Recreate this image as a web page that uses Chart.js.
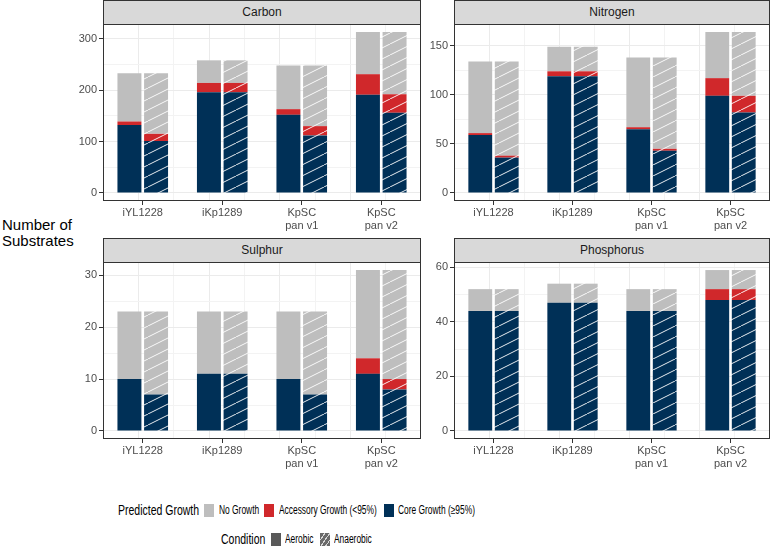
<!DOCTYPE html>
<html>
<head>
<meta charset="utf-8">
<script src="https://cdn.jsdelivr.net/npm/chart.js@4.4.1/dist/chart.umd.min.js"></script>
<style>
  body { margin: 0; width: 771px; height: 552px; position: relative; background: #fff; overflow: hidden;
         font-family: "Liberation Sans", Arial, sans-serif; }
  canvas { position: absolute; }
  .strip { position: absolute; height: 25px; box-sizing: border-box; background: #d9d9d9; border: 1px solid #333;
           font-size: 12px; line-height: 23px; color: #1a1a1a; text-align: center; }
  .ytitle { position: absolute; left: 2px; top: 217px; font-size: 15px; line-height: 16px; color: #000; }
  .lg { position: absolute; line-height: 16px; color: #000; white-space: nowrap;
        transform: scaleX(0.7); transform-origin: 0 50%; }
  .lg.t { font-size: 15px; }
  .lg.i { font-size: 12px; }
  .key { position: absolute; width: 10px; height: 13px; }
</style>
</head>
<body>
<div class="ytitle">Number of<br>Substrates</div>

<canvas id="cCarbon" width="361" height="231" style="left:60px;top:0px"></canvas>
<canvas id="cNitrogen" width="359" height="231" style="left:411px;top:0px"></canvas>
<canvas id="cSulphur" width="361" height="231" style="left:60px;top:238px"></canvas>
<canvas id="cPhosphorus" width="359" height="231" style="left:411px;top:238px"></canvas>

<div class="strip" style="left:103px;top:0px;width:318px">Carbon</div>
<div class="strip" style="left:454px;top:0px;width:316px">Nitrogen</div>
<div class="strip" style="left:103px;top:238px;width:318px">Sulphur</div>
<div class="strip" style="left:454px;top:238px;width:316px">Phosphorus</div>

<span class="lg t" style="left:118px;top:502px">Predicted Growth</span>
<span class="key" style="left:204px;top:504px;background:#bebebe"></span>
<span class="lg i" style="left:219px;top:502px">No Growth</span>
<span class="key" style="left:264px;top:504px;background:#d0282b"></span>
<span class="lg i" style="left:279px;top:502px">Accessory Growth (&lt;95%)</span>
<span class="key" style="left:384px;top:504px;background:#003057"></span>
<span class="lg i" style="left:398px;top:502px">Core Growth (≥95%)</span>

<span class="lg t" style="left:221px;top:531px">Condition</span>
<span class="key" style="left:271px;top:533px;background:#595959"></span>
<span class="lg i" style="left:285px;top:531px">Aerobic</span>
<span class="key" style="left:320px;top:533px;background:repeating-linear-gradient(-55deg,#6a6a6a 0 3px,#d8d8d8 3px 4px)"></span>
<span class="lg i" style="left:334px;top:531px">Anaerobic</span>

<script>
// categories (models)
var models = ["iYL1228", "iKp1289", ["KpSC", "pan v1"], ["KpSC", "pan v2"]];

// Carbon
var carbonAerCore = [132, 196, 152, 191];
var carbonAerAcc = [7, 18, 11, 40];
var carbonAerNone = [94, 44, 85, 82];
var carbonAnaCore = [101, 196, 112, 156];
var carbonAnaAcc = [14, 18, 18, 36];
var carbonAnaNone = [118, 44, 118, 121];

// Nitrogen
var nitrogenAerCore = [59, 119, 65, 99];
var nitrogenAerAcc = [2, 5, 2, 18];
var nitrogenAerNone = [73, 25, 71, 47];
var nitrogenAnaCore = [36, 119, 43, 82];
var nitrogenAnaAcc = [2, 5, 2, 17];
var nitrogenAnaNone = [96, 25, 93, 65];

// Sulphur
var sulphurAerCore = [10, 11, 10, 11];
var sulphurAerAcc = [0, 0, 0, 3];
var sulphurAerNone = [13, 12, 13, 17];
var sulphurAnaCore = [7, 11, 7, 8];
var sulphurAnaAcc = [0, 0, 0, 2];
var sulphurAnaNone = [16, 12, 16, 21];

// Phosphorus
var phosphorusAerCore = [44, 47, 44, 48];
var phosphorusAerAcc = [0, 0, 0, 4];
var phosphorusAerNone = [8, 7, 8, 7];
var phosphorusAnaCore = [44, 47, 44, 48];
var phosphorusAnaAcc = [0, 0, 0, 4];
var phosphorusAnaNone = [8, 7, 8, 7];

var NAVY = "#003057";
var RED = "#d0282b";
var GREY = "#bebebe";

Chart.defaults.font.family = '"Liberation Sans", Arial, sans-serif';
Chart.defaults.font.size = 11;
Chart.defaults.color = "#4d4d4d";

function hatch(color) {
  var w = 22, h = 11;
  var c = document.createElement("canvas");
  c.width = w;
  c.height = h;
  var g = c.getContext("2d");
  g.fillStyle = color;
  g.fillRect(0, 0, w, h);
  g.strokeStyle = "rgba(255,255,255,0.9)";
  g.lineWidth = 1;
  g.beginPath();
  g.moveTo(0, h); g.lineTo(w, 0);
  g.moveTo(-w, 2 * h); g.lineTo(0, h);
  g.moveTo(w, 0); g.lineTo(2 * w, -h);
  g.stroke();
  return g.createPattern(c, "repeat");
}

function isMajor(c, major) {
  return c.tick && Math.abs(c.tick.value % major) < 1e-9;
}

var panelBorder = {
  id: "panelBorder",
  afterDraw: function (chart) {
    var a = chart.chartArea;
    var ctx = chart.ctx;
    ctx.save();
    ctx.strokeStyle = "#333333";
    ctx.lineWidth = 1;
    ctx.strokeRect(Math.round(a.left) + 0.5, Math.round(a.top) + 0.5,
      Math.round(a.right - a.left) - 1, Math.round(a.bottom - a.top) - 1);
    ctx.restore();
  },
};

function makePanel(id, aerCore, aerAcc, aerNone, anaCore, anaAcc, anaNone, yMin, yMax, step, major) {
  var ctx = document.getElementById(id).getContext("2d");
  return new Chart(ctx, {
    type: "bar",
    data: {
      labels: models,
      datasets: [
        { label: "Core Growth (≥95%)", data: aerCore, backgroundColor: NAVY, stack: "Aerobic" },
        { label: "Accessory Growth (<95%)", data: aerAcc, backgroundColor: RED, stack: "Aerobic" },
        { label: "No Growth", data: aerNone, backgroundColor: GREY, stack: "Aerobic" },
        { label: "Core Growth (≥95%)", data: anaCore, backgroundColor: hatch(NAVY), stack: "Anaerobic" },
        { label: "Accessory Growth (<95%)", data: anaAcc, backgroundColor: hatch(RED), stack: "Anaerobic" },
        { label: "No Growth", data: anaNone, backgroundColor: hatch(GREY), stack: "Anaerobic" },
      ],
    },
    options: {
      responsive: false,
      animation: false,
      layout: { padding: { top: 24, right: 0, bottom: 0, left: 0 } },
      datasets: { bar: { categoryPercentage: 0.67, barPercentage: 0.9, borderWidth: 0 } },
      plugins: { legend: { display: false }, tooltip: { enabled: false } },
      scales: {
        x: {
          stacked: true,
          offset: true,
          grid: { display: true, drawOnChartArea: false, offset: false, tickLength: 4, tickColor: "#333333" },
          border: { display: false },
          ticks: { padding: 2, color: "#4d4d4d", maxRotation: 0, autoSkip: false, font: { size: 11, lineHeight: 1.15 } },
          afterFit: function (s) { s.height = 30; },
        },
        xg: {
          type: "linear",
          position: "bottom",
          min: -0.5,
          max: 3.5,
          ticks: { display: false, stepSize: 0.5, includeBounds: false },
          grid: {
            drawTicks: false,
            color: function (c) { return isMajor(c, 1) ? "#ebebeb" : "#f3f3f3"; },
          },
          border: { display: false },
          afterFit: function (s) { s.height = 0; },
        },
        y: {
          stacked: true,
          min: yMin,
          max: yMax,
          border: { display: false },
          ticks: {
            stepSize: step,
            includeBounds: false,
            padding: 2,
            color: "#4d4d4d",
            callback: function (v) { return Math.abs(v % major) < 1e-9 ? v : ""; },
          },
          grid: {
            tickLength: 4,
            color: function (c) { return isMajor(c, major) ? "#ebebeb" : "#f3f3f3"; },
            tickColor: function (c) { return isMajor(c, major) ? "#333333" : "rgba(0,0,0,0)"; },
          },
          afterFit: function (s) { s.width = 43; },
        },
      },
    },
    plugins: [panelBorder],
  });
}

makePanel("cCarbon", carbonAerCore, carbonAerAcc, carbonAerNone, carbonAnaCore, carbonAnaAcc, carbonAnaNone,
  -15.65, 328.65, 50, 100);
makePanel("cNitrogen", nitrogenAerCore, nitrogenAerAcc, nitrogenAerNone, nitrogenAnaCore, nitrogenAnaAcc, nitrogenAnaNone,
  -8.2, 172.2, 25, 50);
makePanel("cSulphur", sulphurAerCore, sulphurAerAcc, sulphurAerNone, sulphurAnaCore, sulphurAnaAcc, sulphurAnaNone,
  -1.55, 32.55, 5, 10);
makePanel("cPhosphorus", phosphorusAerCore, phosphorusAerAcc, phosphorusAerNone, phosphorusAnaCore, phosphorusAnaAcc, phosphorusAnaNone,
  -2.95, 61.95, 10, 20);
</script>
</body>
</html>
